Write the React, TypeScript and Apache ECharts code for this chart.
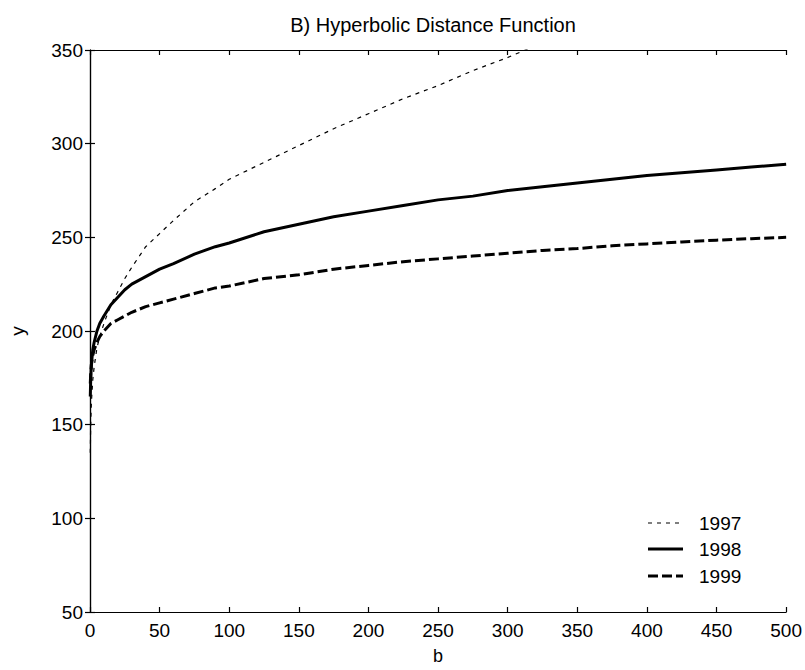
import React, { useEffect, useRef } from "react";
import * as echarts from "echarts";

const titleText = "B) Hyperbolic Distance Function";
const xName = "b";
const yName = "y";
const seriesNames = ["1997", "1998", "1999"];

const bGrid = [0.2, 0.5, 1, 2, 3, 5, 7, 10, 15, 20, 25, 30, 40, 50, 60, 75, 90, 100, 125, 150, 175, 200, 225, 250, 275, 300, 325, 350, 375, 400, 425, 450, 475, 500];

const y1997 = [135, 150, 162, 174, 181, 191, 197, 204, 214, 221, 228, 234, 245, 252, 259, 269, 276, 281, 290, 299, 308, 316, 324, 331, 339, 346, 354];
const y1998 = [165, 174, 182, 190, 194, 200, 204, 208, 214, 218, 222, 225, 229, 233, 236, 241, 245, 247, 253, 257, 261, 264, 267, 270, 272, 275, 277, 279, 281, 283, 284.5, 286, 287.5, 289];
const y1999 = [172, 177, 182, 187, 190, 194, 197, 200, 204, 206, 208, 210, 213, 215, 217, 220, 223, 224, 228, 230, 233, 235, 237, 238.5, 240, 241.5, 243, 244, 245.5, 246.5, 247.5, 248.5, 249.3, 250];

const FONT = '"Liberation Sans", Arial, Helvetica, sans-serif';

const zip = (xs: number[], ys: number[]) => ys.map((y, i) => [xs[i], y]);

const legendStyles = [
  { width: 1.2, dash: [4, 5] as number[] | null },
  { width: 3, dash: null as number[] | null },
  { width: 3, dash: [10, 4] as number[] | null },
];

export default function App() {
  const ref = useRef<HTMLDivElement>(null);
  useEffect(() => {
    document.body.style.margin = "0";
    if (!ref.current) return;
    const chart = echarts.init(ref.current, undefined, { renderer: "svg" });
    const axisLine = { show: true, lineStyle: { color: "#000", width: 1.2 } };
    const tick = { show: true, inside: true, length: 5, lineStyle: { color: "#000", width: 1.2 } };
    const label = { color: "#000", fontSize: 19, fontFamily: FONT };
    const legendRowsY = [523, 549, 576];
    const legendGraphics: any[] = [];
    seriesNames.forEach((name, i) => {
      const st = legendStyles[i];
      legendGraphics.push({
        type: "line",
        shape: { x1: 648, y1: legendRowsY[i], x2: 683, y2: legendRowsY[i] },
        style: { stroke: "#000", lineWidth: st.width, lineDash: st.dash || undefined },
      });
      legendGraphics.push({
        type: "text",
        x: 699,
        y: legendRowsY[i],
        style: {
          text: name,
          fontSize: 19,
          fontFamily: FONT,
          fill: "#000",
          textAlign: "left",
          textVerticalAlign: "middle",
        },
      });
    });
    const option: any = {
      animation: false,
      backgroundColor: "#fff",
      textStyle: { fontFamily: FONT },
      grid: { left: 79, top: 50, width: 708, height: 568, containLabel: false },
      graphic: [
        {
          type: "text",
          x: 433,
          y: 25,
          style: {
            text: titleText,
            fontSize: 20,
            fontFamily: FONT,
            fill: "#000",
            textAlign: "center",
            textVerticalAlign: "middle",
          },
        },
        ...legendGraphics,
      ],
      xAxis: [
        {
          type: "value",
          min: 0,
          max: 500,
          interval: 50,
          position: "bottom",
          name: xName,
          nameLocation: "middle",
          nameGap: 35,
          nameTextStyle: { color: "#000", fontSize: 18, fontFamily: FONT },
          axisLine,
          axisTick: tick,
          axisLabel: { ...label, margin: 9, showMinLabel: true, showMaxLabel: true },
          splitLine: { show: false },
        },
        {
          type: "value",
          min: 0,
          max: 500,
          interval: 50,
          position: "top",
          axisLine,
          axisTick: tick,
          axisLabel: { show: false },
          splitLine: { show: false },
        },
      ],
      yAxis: [
        {
          type: "value",
          min: 50,
          max: 350,
          interval: 50,
          position: "left",
          name: yName,
          nameLocation: "middle",
          nameGap: 63,
          nameTextStyle: { color: "#000", fontSize: 19, fontFamily: FONT },
          axisLine,
          axisTick: tick,
          axisLabel: { ...label, margin: 7, showMinLabel: true, showMaxLabel: true },
          splitLine: { show: false },
        },
        {
          type: "value",
          min: 50,
          max: 350,
          interval: 50,
          position: "right",
          axisLine,
          axisTick: tick,
          axisLabel: { show: false },
          splitLine: { show: false },
        },
      ],
      series: [
        {
          name: seriesNames[0],
          type: "line",
          data: zip(bGrid, y1997),
          symbol: "none",
          smooth: false,
          clip: true,
          lineStyle: { color: "#000", width: 1.2, type: [4, 5] },
        },
        {
          name: seriesNames[1],
          type: "line",
          data: zip(bGrid, y1998),
          symbol: "none",
          smooth: false,
          clip: true,
          lineStyle: { color: "#000", width: 3, type: "solid" },
        },
        {
          name: seriesNames[2],
          type: "line",
          data: zip(bGrid, y1999),
          symbol: "none",
          smooth: false,
          clip: true,
          lineStyle: { color: "#000", width: 3, type: [10, 4] },
        },
      ],
    };
    chart.setOption(option);
    return () => chart.dispose();
  }, []);
  return <div ref={ref} style={{ width: 805, height: 670 }} />;
}
